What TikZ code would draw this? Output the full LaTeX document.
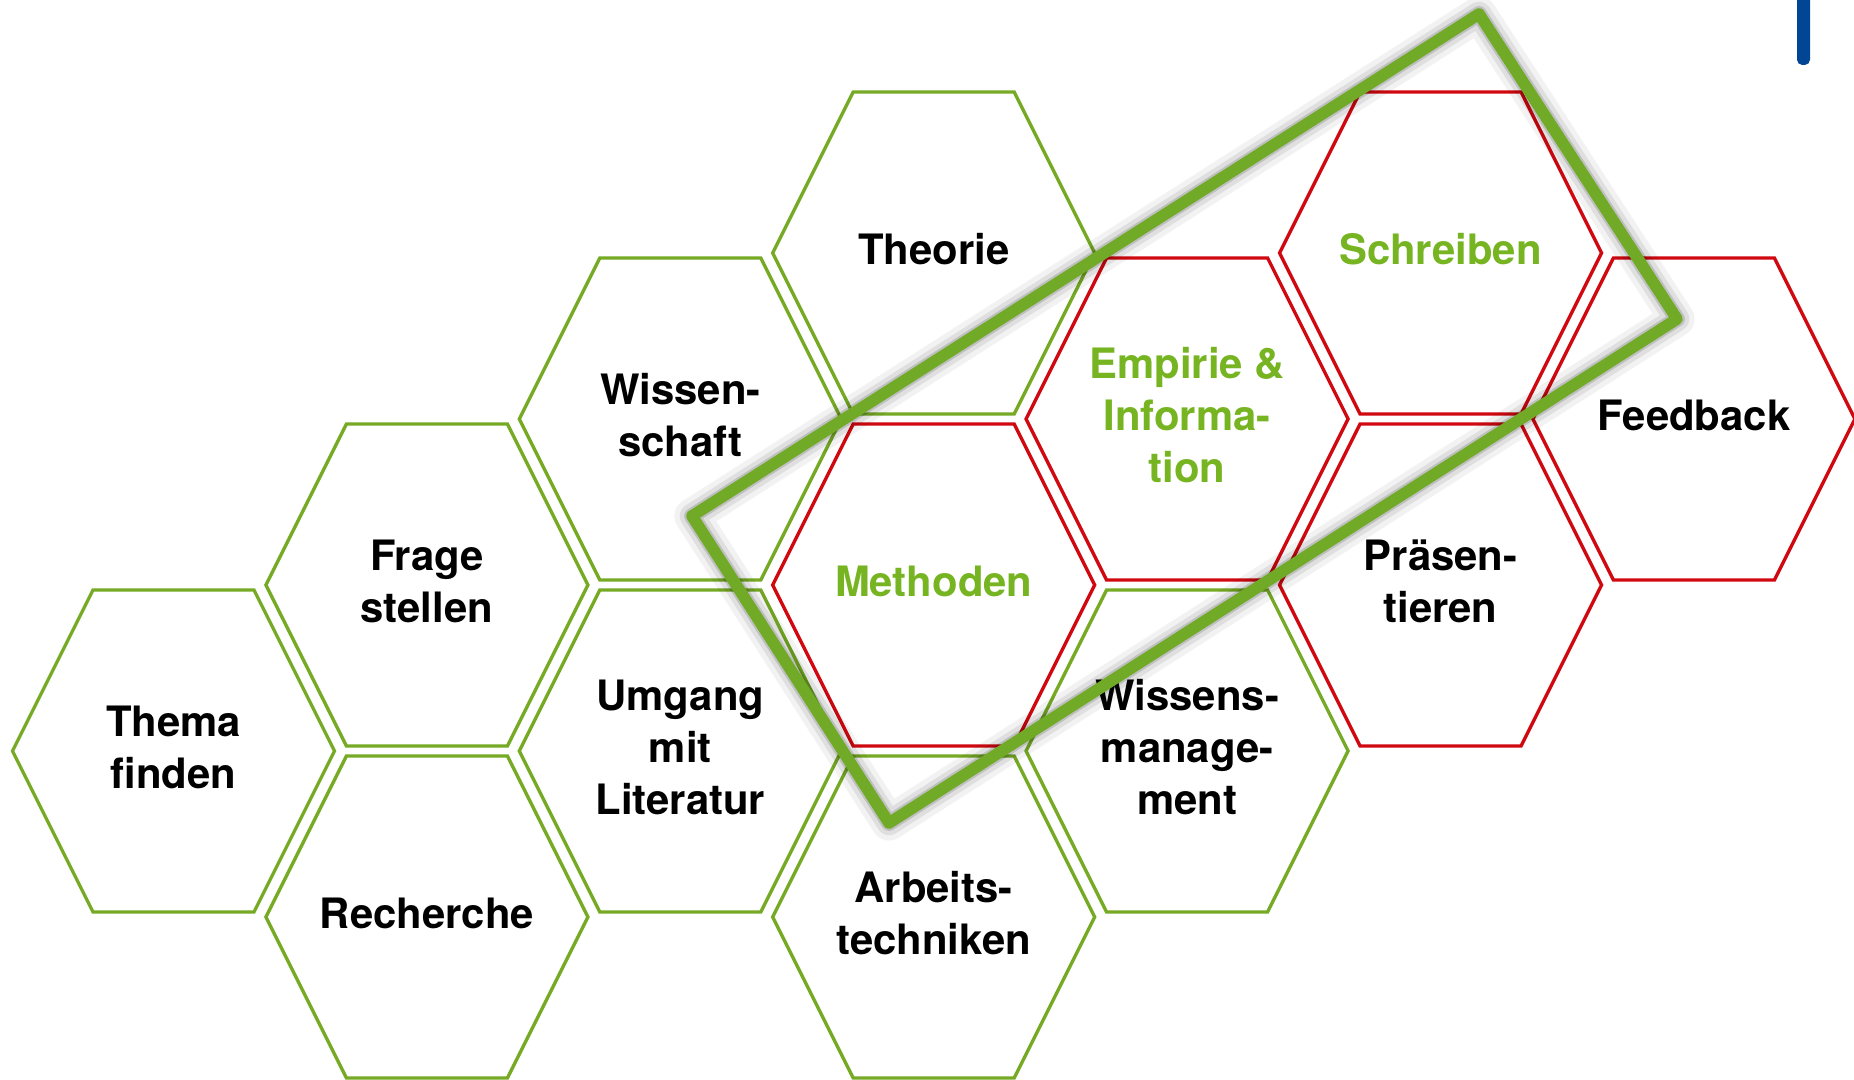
\documentclass[tikz,border=0pt]{standalone}
\usepackage{fontspec}
\setmainfont{TeX Gyre Heros}
\usetikzlibrary{calc}

\definecolor{hexgreen}{RGB}{118,170,36}
\definecolor{txtgreen}{RGB}{118,180,34}
\definecolor{hexred}{RGB}{208,8,16}
\definecolor{framegreen}{RGB}{112,170,38}
\definecolor{barblue}{RGB}{0,70,148}

\tikzset{
  hexline/.style={line width=0.95pt, line join=miter},
  celltext/.style={font=\bfseries\fontsize{11.9}{14.8}\selectfont, align=center, inner sep=0pt, yshift=1pt},
  frameline/.style={line width=3.3pt, draw=framegreen, line join=round},
  frameshadow/.style={line join=round, draw=black},
}

% one honeycomb cell: name, column, row, outline colour, text colour, text
\newcommand\hexcell[6]{%
  \coordinate (#1) at ({173.5+253.4*#2},{253+166*#3});
  \draw[hexline,draw=#4,shift={(#1)}]
    (-161,0) -- (-80.5,-161) -- (80.5,-161) -- (161,0) -- (80.5,161) -- (-80.5,161) -- cycle;
  \node[celltext,text=#5] (#1-label) at (#1) {#6};
}

\begin{document}
\begin{tikzpicture}[x=0.01cm,y=-0.01cm]
  \useasboundingbox (0,0) rectangle (1854,1080);
  \fill[white] (0,0) rectangle (1854,1080);

  % green cells
  \hexcell{thema}{0}{3}{hexgreen}{black}{Thema\\finden}
  \hexcell{frage}{1}{2}{hexgreen}{black}{Frage\\stellen}
  \hexcell{recherche}{1}{4}{hexgreen}{black}{Recherche}
  \hexcell{wissenschaft}{2}{1}{hexgreen}{black}{Wissen-\\schaft}
  \hexcell{umgang}{2}{3}{hexgreen}{black}{Umgang\\mit\\Literatur}
  \hexcell{theorie}{3}{0}{hexgreen}{black}{Theorie}
  \hexcell{arbeit}{3}{4}{hexgreen}{black}{Arbeits-\\techniken}
  \hexcell{wissman}{4}{3}{hexgreen}{black}{Wissens-\\manage-\\ment}

  % red cells
  \hexcell{methoden}{3}{2}{hexred}{txtgreen}{Methoden}
  \hexcell{empirie}{4}{1}{hexred}{txtgreen}{Empirie \&\\Informa-\\tion}
  \hexcell{schreiben}{5}{0}{hexred}{txtgreen}{Schreiben}
  \hexcell{praes}{5}{2}{hexred}{black}{Präsen-\\tieren}
  \hexcell{feedback}{6}{1}{hexred}{black}{Feedback}

  % tilted frame round the highlighted cells
  \coordinate (fT) at (1479,14);
  \coordinate (fR) at (1677,319);
  \coordinate (fB) at (889,823);
  \coordinate (fL) at (692,516);

  \begin{scope}[shift={(3,7)}]
    \draw[frameshadow,line width=10pt,opacity=0.05] (fT) -- (fR) -- (fB) -- (fL) -- cycle;
    \draw[frameshadow,line width=7pt,opacity=0.08] (fT) -- (fR) -- (fB) -- (fL) -- cycle;
    \draw[frameshadow,line width=4.5pt,opacity=0.14] (fT) -- (fR) -- (fB) -- (fL) -- cycle;
  \end{scope}
  \draw[frameline] (fT) -- (fR) -- (fB) -- (fL) -- cycle;

  % blue mark at the top right
  \fill[barblue,rounded corners=1.5] (1797,-10) rectangle (1810,65);
\end{tikzpicture}
\end{document}
